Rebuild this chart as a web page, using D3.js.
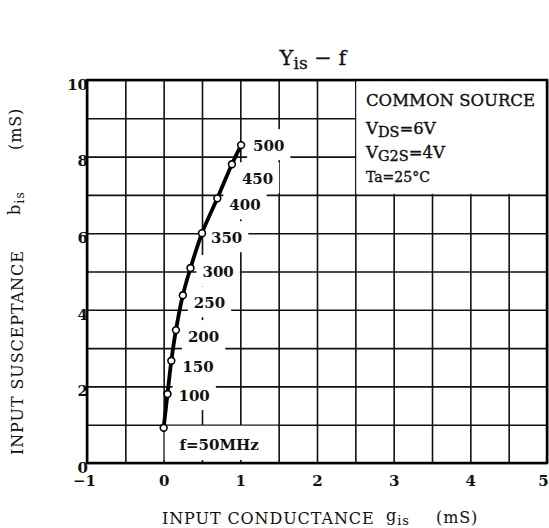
<!DOCTYPE html>
<html><head><meta charset="utf-8">
<script src="https://cdn.jsdelivr.net/npm/d3@7"></script>
<style>body{margin:0;background:#fff} svg{display:block}</style>
</head><body>
<svg id="c" width="549" height="528"></svg>
<script>
// ---- data ----
const frequencies = [50, 100, 150, 200, 250, 300, 350, 400, 450, 500];
const conductance = [0, 0.05, 0.10, 0.16, 0.25, 0.35, 0.50, 0.70, 0.89, 1.01];
const susceptance = [0.92, 1.80, 2.67, 3.47, 4.38, 5.09, 6.00, 6.91, 7.80, 8.30];
const pointLabels = ["f=50MHz", "100", "150", "200", "250", "300", "350", "400", "450", "500"];
const xTickValues = [-1, 0, 1, 2, 3, 4, 5];
const yTickValues = [0, 2, 4, 6, 8, 10];

const serif = "'DejaVu Serif', serif";
const svg = d3.select("#c");
const x = d3.scaleLinear().domain([-1, 5]).range([87, 547]);
const y = d3.scaleLinear().domain([0, 10]).range([463, 80]);
const W = x(5) - x(-1), H = y(0) - y(10);

// grid
const grid = svg.append("g");
grid.append("g").attr("transform", `translate(0,${y(0)})`)
  .call(d3.axisBottom(x).tickValues(d3.range(-1, 5.001, 0.5)).tickSize(-H).tickFormat(""))
  .call(g => g.select(".domain").remove())
  .selectAll("line").attr("stroke", "#111").attr("stroke-width", 1.6);
grid.append("g").attr("transform", `translate(${x(-1)},0)`)
  .call(d3.axisLeft(y).tickValues(d3.range(0, 10.001, 1)).tickSize(-W).tickFormat(""))
  .call(g => g.select(".domain").remove())
  .selectAll("line").attr("stroke", "#111").attr("stroke-width", 1.6);

// blank regions: legend area and 50MHz box
svg.append("rect").attr("x", x(2.5) + 1).attr("y", y(10)).attr("width", x(5) - x(2.5) - 1)
  .attr("height", y(7) - y(10) - 1).attr("fill", "#fff");
svg.append("rect").attr("x", x(0) + 1).attr("y", y(1) + 1).attr("width", x(1.5) - x(0) - 2)
  .attr("height", y(0) - y(1) - 4).attr("fill", "#fff");

// point labels with white backgrounds
const pts = frequencies.map((f, i) => ({f, g: conductance[i], b: susceptance[i], label: pointLabels[i]}));
const offs = {100:[11,7],150:[11,11],200:[12,12],250:[11,13],300:[12,9],350:[9,10],400:[12,12],450:[10,20],500:[12,6]};
const lblG = svg.append("g");
pts.filter(p => p.f !== 50).forEach(p => {
  const [dx, dy] = offs[p.f];
  const lx = x(p.g) + dx, ly = y(p.b) + dy;
  const bg = lblG.append("rect").attr("fill", "#fff");
  const t = lblG.append("text").attr("x", lx).attr("y", ly).text(p.label)
    .attr("font-family", serif).attr("font-weight", "bold").attr("font-size", 15).attr("fill", "#111");
  const w = t.node().getComputedTextLength();
  bg.attr("x", lx - 6).attr("y", ly - 22).attr("width", w + 12).attr("height", 31);
});
// 50MHz label inside its box
svg.append("text").attr("x", (x(0) + x(1.5)) / 2 - 2).attr("y", y(0) - 13)
  .attr("text-anchor", "middle").text(pts[0].label)
  .attr("font-family", serif).attr("font-weight", "bold").attr("font-size", 15).attr("fill", "#111");

// curve
const line = d3.line().x(d => x(d.g)).y(d => y(d.b)).curve(d3.curveCatmullRom);
svg.append("path").datum(pts).attr("d", line).attr("fill", "none")
  .attr("stroke", "#000").attr("stroke-width", 3.8);
svg.append("g").selectAll("circle").data(pts).join("circle")
  .attr("cx", d => x(d.g)).attr("cy", d => y(d.b)).attr("r", 3.4)
  .attr("fill", "#fff").attr("stroke", "#000").attr("stroke-width", 1.6);

// axes tick labels
const xAx = svg.append("g").attr("transform", `translate(0,${y(0)})`)
  .call(d3.axisBottom(x).tickValues(xTickValues).tickSize(0).tickPadding(12).tickFormat(d3.format("d")));
xAx.select(".domain").remove();
xAx.selectAll("text").attr("font-family", serif).attr("font-weight", "bold").attr("font-size", 15).attr("fill", "#111")
  .attr("dx", d => d === 5 ? -4 : (d === -1 ? -3 : 0));
const yAx = svg.append("g").attr("transform", `translate(${x(-1) + 1},0)`)
  .call(d3.axisLeft(y).tickValues(yTickValues).tickSize(0).tickPadding(0));
yAx.select(".domain").remove();
yAx.selectAll("text").attr("font-family", serif).attr("font-weight", "bold").attr("font-size", 15)
  .attr("dy", "0.62em").attr("fill", "#111");

// frame
svg.append("rect").attr("x", x(-1)).attr("y", y(10)).attr("width", W).attr("height", H)
  .attr("fill", "none").attr("stroke", "#000").attr("stroke-width", 2.5);

// title
const title = svg.append("text").attr("x", 313).attr("y", 65).attr("text-anchor", "middle")
  .attr("font-family", serif).attr("font-size", 21).attr("fill", "#111")
  .attr("stroke", "#111").attr("stroke-width", 0.3);
title.append("tspan").text("Y");
title.append("tspan").text("is").attr("font-size", 17).attr("dy", 4);
title.append("tspan").text(" − f").attr("dy", -4);

// legend
const lg = svg.append("g").attr("font-family", serif).attr("fill", "#111")
  .attr("stroke", "#111").attr("stroke-width", 0.35);
lg.append("text").attr("x", 366).attr("y", 106).attr("font-size", 16.5).text("COMMON SOURCE");
const l2 = lg.append("text").attr("x", 366).attr("y", 134).attr("font-size", 16.5);
l2.append("tspan").text("V"); l2.append("tspan").text("DS").attr("font-size", 14.5).attr("dy", 3);
l2.append("tspan").text("=6V").attr("dy", -3);
const l3 = lg.append("text").attr("x", 366).attr("y", 158).attr("font-size", 16.5);
l3.append("tspan").text("V"); l3.append("tspan").text("G2S").attr("font-size", 14.5).attr("dy", 3);
l3.append("tspan").text("=4V").attr("dy", -3);
lg.append("text").attr("x", 366).attr("y", 182).attr("font-size", 14).text("Ta=25°C");

// axis titles
const xt = svg.append("g").attr("font-family", serif).attr("font-size", 16).attr("fill", "#111")
  .attr("letter-spacing", 0.9);
xt.append("text").attr("x", 162).attr("y", 524).text("INPUT CONDUCTANCE");
const gis = xt.append("text").attr("x", 386).attr("y", 521);
gis.append("tspan").text("g"); gis.append("tspan").text("is").attr("font-size", 13).attr("dy", 4);
xt.append("text").attr("x", 436).attr("y", 523).text("(mS)");

const yt = svg.append("g").attr("font-family", serif).attr("font-size", 16).attr("fill", "#111")
  .attr("letter-spacing", 0.9).attr("transform", "translate(23,0) rotate(-90)");
yt.append("text").attr("x", -455).attr("y", 0).text("INPUT SUSCEPTANCE");
const bis = yt.append("text").attr("x", -215).attr("y", -3);
bis.append("tspan").text("b"); bis.append("tspan").text("is").attr("font-size", 13).attr("dy", 4);
yt.append("text").attr("x", -150).attr("y", -2).text("(mS)");
</script>
</body></html>
